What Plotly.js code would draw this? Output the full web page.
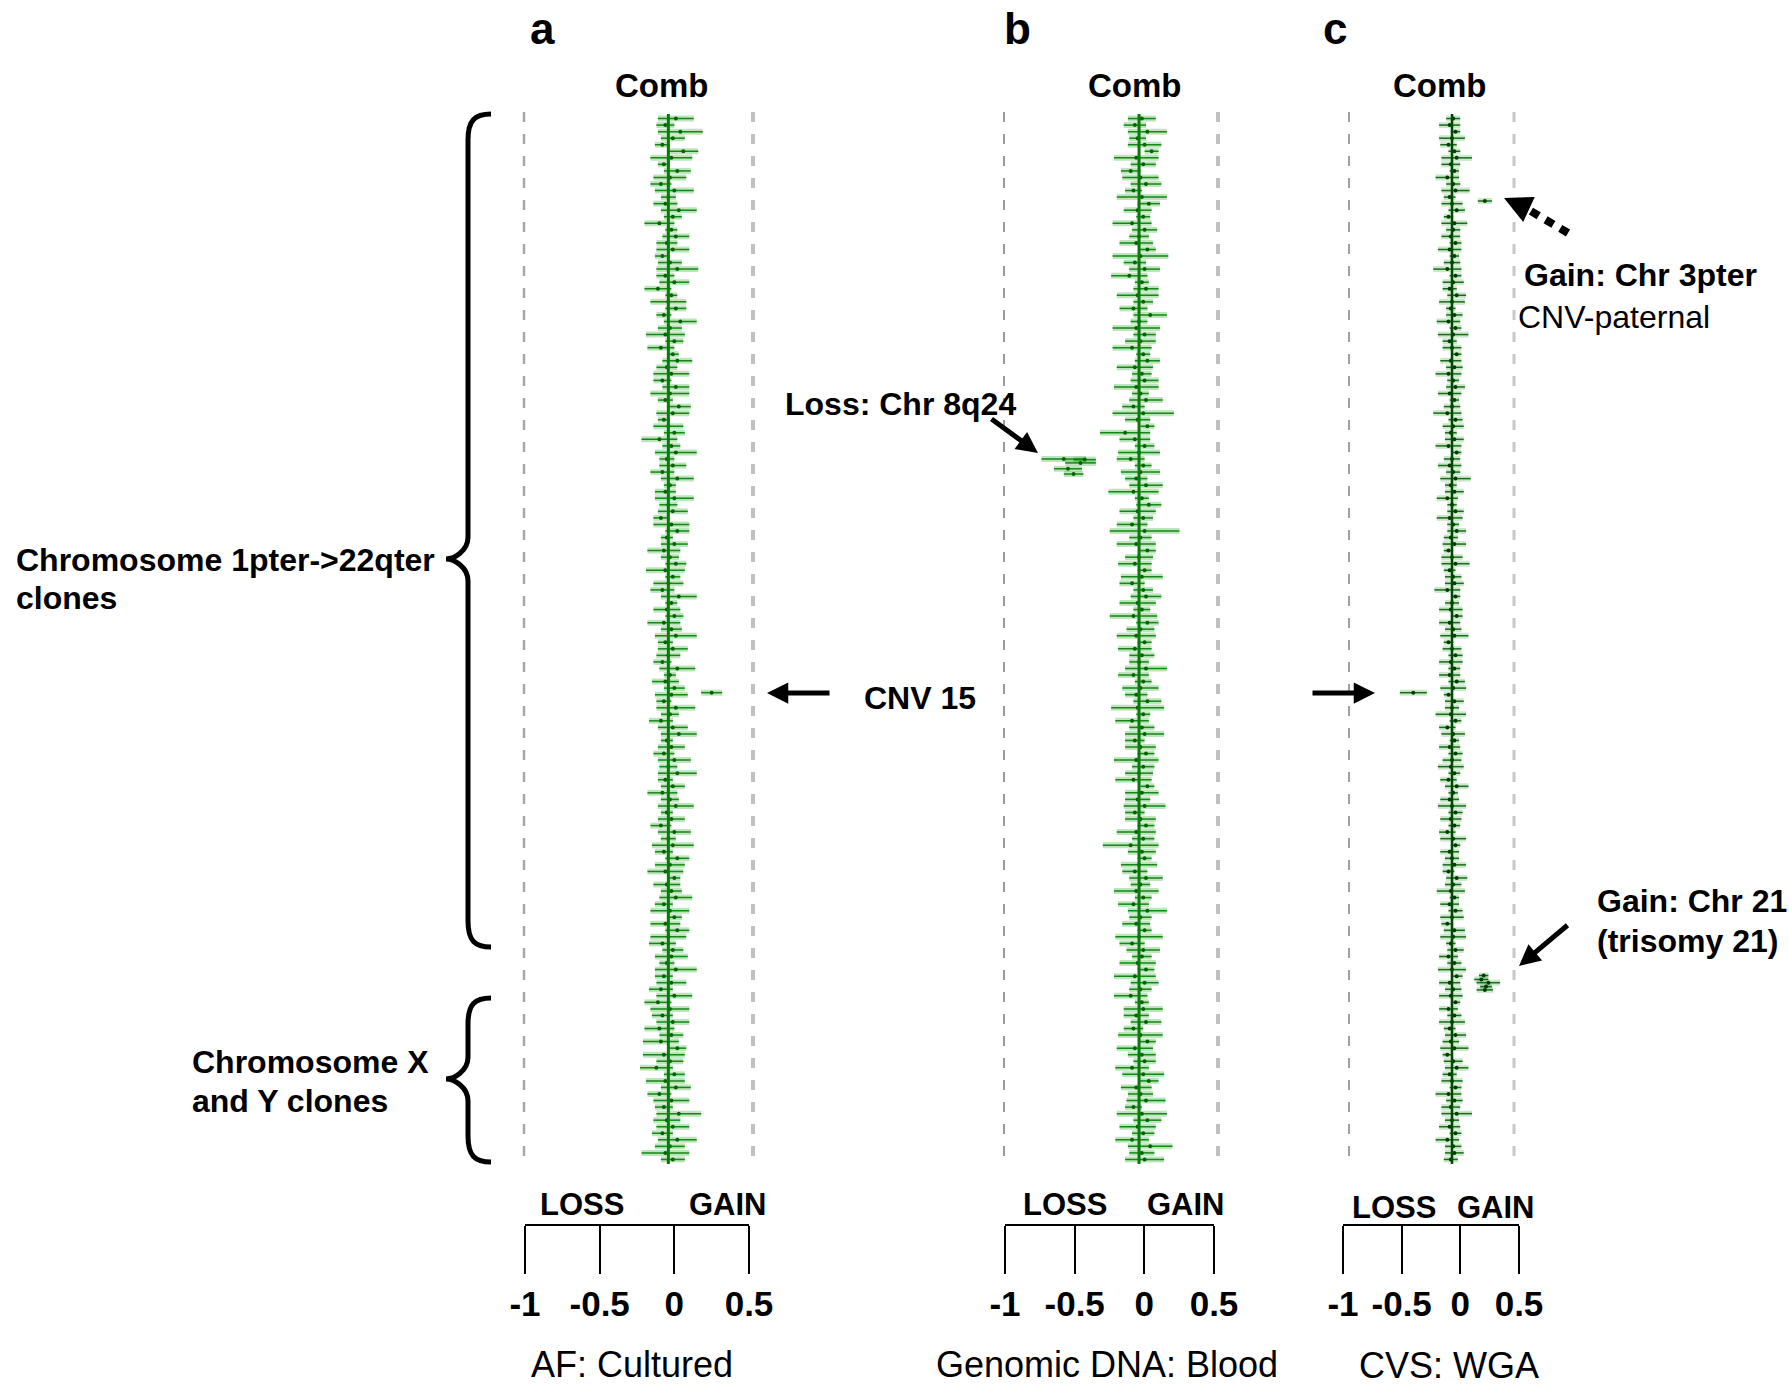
<!DOCTYPE html>
<html><head><meta charset="utf-8">
<script src="https://cdn.plot.ly/plotly-3.0.1.min.js"></script>
<style>html,body{margin:0;padding:0;background:#fff}</style>
</head><body><div id="chart" style="width:1789px;height:1386px"></div>
<script>
// ---- Panel a: AF cultured (Comb log2 ratio per clone, chr1pter -> Y) ----
const aVals = [
 0.05,-0.02,0.08,0.03,-0.04,0.10,0.02,-0.03,0.06,0.01,-0.05,0.04,0.00,-0.02,0.07,0.03,-0.06,0.02,0.05,-0.01,
 0.03,-0.04,0.01,0.06,-0.02,0.04,-0.07,0.02,0.00,0.05,-0.03,0.08,0.01,-0.02,0.04,-0.05,0.03,0.06,-0.01,0.02,
 -0.04,0.05,0.01,-0.02,0.07,0.03,-0.03,0.00,0.04,-0.06,0.02,0.05,-0.01,0.03,-0.04,0.06,0.01,-0.02,0.04,0.00,
 0.03,-0.05,0.02,0.06,-0.01,0.04,-0.03,0.01,0.05,-0.02,0.03,0.00,-0.04,0.07,0.02,-0.01,0.04,-0.03,0.02,0.05,
 -0.02,0.03,0.00,-0.04,0.06,0.01,-0.02,0.04,0.02,-0.03,0.05,0.01,-0.05,0.03,0.07,-0.01,0.02,-0.03,0.04,0.00,
 0.06,-0.02,0.03,-0.04,0.01,0.05,-0.01,0.02,-0.05,0.04,0.00,0.03,-0.03,0.06,0.01,-0.02,0.04,-0.01,0.02,0.05,
 -0.03,0.01,0.04,-0.02,0.06,0.00,-0.04,0.03,0.02,-0.01,0.05,-0.03,0.02,-0.05,0.04,-0.07,0.01,-0.04,0.03,-0.06,
 0.02,-0.05,0.06,-0.03,0.01,-0.08,0.04,-0.02,0.05,-0.06,0.02,-0.03,0.07,-0.01,0.03,-0.04,0.06,0.01,-0.02,0.03];
const aErr = [
 0.12,0.06,0.15,0.08,0.05,0.10,0.14,0.04,0.09,0.11,0.07,0.13,0.05,0.08,0.12,0.06,0.10,0.04,0.09,0.07,
 0.11,0.05,0.08,0.14,0.06,0.10,0.09,0.04,0.12,0.07,0.05,0.11,0.08,0.13,0.06,0.09,0.04,0.10,0.07,0.12,
 0.06,0.09,0.13,0.05,0.08,0.11,0.04,0.10,0.07,0.12,0.06,0.14,0.05,0.09,0.08,0.11,0.04,0.07,0.13,0.06,
 0.10,0.05,0.12,0.08,0.04,0.09,0.11,0.06,0.07,0.13,0.05,0.10,0.08,0.12,0.04,0.09,0.06,0.11,0.07,0.14,
 0.05,0.10,0.08,0.06,0.12,0.04,0.09,0.07,0.11,0.05,0.13,0.06,0.08,0.10,0.12,0.04,0.09,0.07,0.11,0.06,
 0.13,0.05,0.08,0.10,0.06,0.12,0.04,0.09,0.07,0.11,0.05,0.14,0.06,0.08,0.10,0.12,0.04,0.09,0.07,0.11,
 0.06,0.13,0.05,0.10,0.08,0.12,0.09,0.07,0.11,0.05,0.14,0.06,0.10,0.08,0.12,0.09,0.13,0.07,0.11,0.10,
 0.08,0.12,0.06,0.14,0.09,0.11,0.07,0.13,0.10,0.08,0.12,0.06,0.15,0.09,0.11,0.07,0.13,0.10,0.16,0.08];
const aCnvY = [88.7];
const aCnvX = [0.29];
const aCnvErr = [0.07];

// ---- Panel b: Genomic DNA blood ----
const bVals = [
 0.02,-0.03,0.06,-0.01,0.04,0.09,-0.02,0.03,-0.06,0.01,0.05,-0.04,0.02,0.07,-0.01,0.03,-0.05,0.04,0.00,-0.02,
 0.06,0.01,-0.03,0.04,-0.07,0.02,0.05,-0.01,0.03,-0.04,0.08,0.00,-0.02,0.04,0.01,-0.05,0.03,0.06,-0.03,0.02,
 0.04,-0.02,0.01,0.05,-0.04,0.03,-0.01,0.06,-0.10,-0.03,0.04,0.00,-0.06,0.03,0.01,-0.02,0.05,-0.04,0.02,0.07,
 -0.01,0.03,-0.05,0.04,0.01,-0.02,0.06,0.00,-0.03,0.04,0.02,-0.05,0.03,0.05,-0.01,0.02,-0.04,0.06,0.01,-0.02,
 0.04,-0.03,0.02,0.00,0.05,-0.04,0.03,0.01,-0.02,0.06,-0.01,0.03,-0.05,0.02,0.04,-0.03,0.01,0.05,-0.02,0.03,
 0.00,-0.04,0.06,0.02,-0.01,0.04,-0.03,0.01,0.05,-0.02,0.03,-0.06,0.02,0.04,0.00,-0.03,0.05,0.01,-0.02,0.03,
 -0.04,0.06,0.01,-0.02,0.04,0.00,-0.05,0.03,0.02,-0.01,0.05,-0.03,0.04,0.01,-0.06,0.02,0.03,-0.02,0.05,-0.04,
 0.01,0.06,-0.03,0.02,0.04,-0.05,0.03,0.07,-0.02,0.01,0.05,-0.04,0.02,0.06,-0.01,0.03,-0.05,0.08,0.02,0.04];
const bErr = [
 0.10,0.08,0.14,0.06,0.12,0.05,0.16,0.09,0.07,0.13,0.11,0.06,0.18,0.08,0.10,0.05,0.14,0.09,0.07,0.12,
 0.06,0.20,0.08,0.11,0.13,0.05,0.09,0.15,0.07,0.10,0.12,0.06,0.17,0.08,0.11,0.14,0.05,0.09,0.13,0.07,
 0.10,0.16,0.06,0.12,0.08,0.22,0.09,0.05,0.18,0.11,0.07,0.15,0.10,0.06,0.14,0.08,0.12,0.18,0.05,0.09,
 0.13,0.07,0.11,0.25,0.08,0.14,0.06,0.10,0.12,0.05,0.15,0.09,0.07,0.11,0.13,0.06,0.17,0.08,0.10,0.14,
 0.05,0.12,0.09,0.07,0.15,0.11,0.06,0.13,0.08,0.10,0.19,0.05,0.12,0.09,0.14,0.07,0.11,0.06,0.16,0.08,
 0.10,0.13,0.05,0.12,0.09,0.15,0.07,0.11,0.06,0.14,0.08,0.20,0.10,0.05,0.13,0.09,0.12,0.07,0.16,0.06,
 0.11,0.14,0.08,0.10,0.05,0.17,0.09,0.12,0.07,0.13,0.06,0.15,0.10,0.08,0.12,0.05,0.14,0.09,0.11,0.07,
 0.16,0.06,0.13,0.10,0.08,0.12,0.15,0.07,0.11,0.09,0.14,0.06,0.18,0.10,0.13,0.08,0.12,0.16,0.09,0.14];
const bLossY = [53.0, 53.1, 53.6, 54.5, 55.3];
const bLossX = [-0.54, -0.39, -0.42, -0.51, -0.47];
const bLossErr = [0.16, 0.08, 0.11, 0.10, 0.07];

// ---- Panel c: CVS WGA ----
const cVals = [
 0.01,-0.02,0.03,0.00,-0.03,0.02,0.04,-0.01,0.02,-0.04,0.01,0.03,-0.02,0.00,0.04,-0.03,0.02,0.01,-0.01,0.03,
 -0.02,0.02,0.00,-0.04,0.03,0.01,-0.02,0.04,0.00,-0.01,0.02,-0.03,0.03,0.01,-0.02,0.00,0.04,-0.01,0.02,-0.03,
 0.01,0.03,-0.02,0.02,0.00,-0.04,0.03,0.01,-0.01,0.02,-0.03,0.04,0.00,-0.02,0.01,0.03,-0.01,0.02,-0.04,0.00,
 0.03,-0.02,0.01,0.04,-0.01,0.02,-0.03,0.00,0.03,-0.02,0.01,0.02,-0.04,0.03,0.00,-0.01,0.04,-0.02,0.01,0.02,
 -0.03,0.00,0.03,-0.01,0.02,-0.02,0.04,0.01,-0.03,0.02,0.00,-0.01,0.03,-0.04,0.01,0.02,-0.02,0.03,0.00,-0.01,
 0.02,-0.03,0.04,0.01,-0.02,0.00,0.03,-0.01,0.02,-0.04,0.01,0.03,-0.02,0.00,0.02,-0.03,0.04,0.01,-0.01,0.02,
 -0.02,0.03,0.00,-0.04,0.02,0.01,-0.01,0.03,-0.03,0.02,0.00,0.04,-0.02,0.01,-0.01,0.03,-0.03,0.02,0.00,-0.02,
 0.03,-0.01,0.02,-0.04,0.01,0.04,-0.02,0.00,0.03,-0.03,0.02,-0.01,0.04,0.00,-0.02,0.03,-0.04,0.01,0.02,-0.01];
const cErr = [
 0.06,0.09,0.04,0.11,0.07,0.05,0.13,0.08,0.04,0.10,0.06,0.12,0.05,0.09,0.07,0.04,0.11,0.06,0.08,0.05,
 0.10,0.04,0.07,0.12,0.05,0.09,0.06,0.08,0.11,0.04,0.07,0.10,0.05,0.13,0.06,0.08,0.04,0.09,0.07,0.11,
 0.05,0.08,0.10,0.04,0.07,0.12,0.06,0.09,0.05,0.08,0.11,0.04,0.07,0.10,0.06,0.13,0.05,0.08,0.09,0.04,
 0.07,0.11,0.05,0.08,0.06,0.10,0.04,0.09,0.12,0.05,0.07,0.08,0.11,0.04,0.06,0.10,0.05,0.09,0.07,0.12,
 0.04,0.08,0.06,0.10,0.05,0.09,0.07,0.11,0.04,0.08,0.06,0.13,0.05,0.07,0.10,0.04,0.09,0.06,0.08,0.11,
 0.05,0.07,0.10,0.04,0.08,0.12,0.06,0.09,0.05,0.07,0.11,0.04,0.08,0.06,0.10,0.05,0.09,0.07,0.12,0.04,
 0.08,0.06,0.10,0.05,0.09,0.11,0.04,0.07,0.08,0.06,0.12,0.05,0.09,0.07,0.10,0.04,0.08,0.06,0.11,0.05,
 0.09,0.07,0.12,0.04,0.08,0.10,0.06,0.09,0.05,0.11,0.07,0.08,0.13,0.06,0.09,0.05,0.10,0.07,0.08,0.06];
const cGainY = [13.6, 131.9, 132.5, 133.0, 133.6, 134.1];
const cGainX = [0.28, 0.27, 0.25, 0.31, 0.29, 0.28];
const cGainErr = [0.06, 0.04, 0.06, 0.10, 0.05, 0.07];
const cLossY = [88.7];
const cLossX = [-0.33];
const cLossErr = [0.115];

// axis key
const keyTickVals = [-1, -0.5, 0, 0.5];
const keyTickText = ['-1', '-0.5', '0', '0.5'];
const subtitles = ['AF: Cultured', 'Genomic DNA: Blood', 'CVS: WGA'];
const panelLetters = ['a', 'b', 'c'];

// ---------------------------------------------------------------
const W = 1789, H = 1386;
const FONT = '"Liberation Sans", Arial, Helvetica, sans-serif';
const PX = p => p / W, PY = p => 1 - p / H;
const cloneIdx = Array.from({length: aVals.length}, (_, i) => i + 1);

const panels = [
  {xa:'x', ya:'y', dom:[525,749], range:[-0.96,0.54], halo:'rgba(40,165,40,0.30)', core:'rgba(0,125,0,0.9)', mk:'#006400', lineC:'#0b780b', lineW:3},
  {xa:'x2', ya:'y2', dom:[1005,1214], range:[-0.962,0.538], halo:'rgba(40,165,40,0.30)', core:'rgba(0,125,0,0.9)', mk:'#006400', lineC:'#0b780b', lineW:3},
  {xa:'x3', ya:'y3', dom:[1343,1519], range:[-0.929,0.571], halo:'rgba(40,150,40,0.24)', core:'rgba(0,95,0,0.9)', mk:'#003c00', lineC:'#004a00', lineW:2.5}
];
const series = [
  [[aVals, cloneIdx, aErr], [aCnvX, aCnvY, aCnvErr]],
  [[bVals, cloneIdx, bErr], [bLossX, bLossY, bLossErr]],
  [[cVals, cloneIdx, cErr], [cGainX, cGainY, cGainErr], [cLossX, cLossY, cLossErr]]
];

const traces = [];
panels.forEach((p, k) => {
  series[k].forEach(([xs, ys, es]) => {
    traces.push({x: xs, y: ys, xaxis: p.xa, yaxis: p.ya, mode: 'markers', hoverinfo: 'skip', showlegend: false,
      marker: {size: 2, color: 'rgba(0,0,0,0)'},
      error_x: {type: 'data', array: es, color: p.halo, thickness: 6, width: 0}});
    traces.push({x: xs, y: ys, xaxis: p.xa, yaxis: p.ya, mode: 'markers', hoverinfo: 'skip', showlegend: false,
      marker: {size: 4, color: p.mk},
      error_x: {type: 'data', array: es, color: p.core, thickness: 1.5, width: 0}});
  });
});
// key axes (empty traces so the subplots exist)
['4','5','6'].forEach(n => traces.push({x: [], y: [], xaxis: 'x' + n, yaxis: 'y' + n, showlegend: false, hoverinfo: 'skip'}));

const layout = {
  width: W, height: H, margin: {l: 0, r: 0, t: 0, b: 0},
  paper_bgcolor: '#fff', plot_bgcolor: 'rgba(0,0,0,0)', showlegend: false,
  font: {family: FONT, color: '#000'},
  shapes: [], annotations: []
};
const yDom = [PY(1166), PY(112)];
panels.forEach((p, k) => {
  const sfx = k === 0 ? '' : String(k + 1);
  layout['xaxis' + sfx] = {domain: [PX(p.dom[0]), PX(p.dom[1])], range: p.range, anchor: 'y' + sfx, visible: false, fixedrange: true};
  layout['yaxis' + sfx] = {domain: yDom, range: [161, 0], anchor: 'x' + sfx, visible: false, fixedrange: true};
  const n = String(k + 4);
  layout['xaxis' + n] = {domain: [PX(p.dom[0]), PX(p.dom[1])], range: [-1, 0.5], anchor: 'y' + n,
    tickvals: keyTickVals, ticktext: keyTickText, ticks: 'outside', ticklen: 48, tickwidth: 2, tickcolor: '#000',
    showline: true, linewidth: 2, linecolor: '#000', showgrid: false, zeroline: false, ticklabelstandoff: 0,
    tickfont: {family: FONT, size: 35, weight: 'bold', color: '#000'}, fixedrange: true};
  layout['yaxis' + n] = {domain: [PY(1224), PY(1220)], anchor: 'x' + n, visible: false, fixedrange: true};
  // comb baseline
  layout.shapes.push({type: 'line', xref: 'x' + (sfx), yref: 'y' + sfx + ' domain', x0: 0, x1: 0, y0: 0.002, y1: 0.998,
    line: {color: p.lineC, width: p.lineW}, layer: 'above'});
});

// dashed guides (pixel positions)
const dashGuides = [[524,'#a8a8a8',2.5],[753,'#c0c0c0',4],[1004,'#9a9a9a',2],[1218,'#c0c0c0',4],[1349,'#a0a0a0',2],[1514,'#c8c8c8',3]];
dashGuides.forEach(([x, c, w]) => layout.shapes.push({type: 'line', xref: 'paper', yref: 'paper', x0: PX(x), x1: PX(x), y0: PY(112), y1: PY(1165),
  line: {color: c, width: w, dash: '10px,12px'}, layer: 'below'}));

// braces
function brace(xe, xs, xt, y0, ym, y1) {
  const P = (x, y) => PX(x).toFixed(5) + ',' + PY(y).toFixed(5);
  return 'M' + P(xe, y0) + ' C' + P(xe - 16, y0) + ' ' + P(xs, y0 + 6) + ' ' + P(xs, y0 + 26) +
    ' L' + P(xs, ym - 22) + ' C' + P(xs, ym - 8) + ' ' + P(xt + 8, ym) + ' ' + P(xt, ym) +
    ' C' + P(xt + 8, ym) + ' ' + P(xs, ym + 8) + ' ' + P(xs, ym + 22) +
    ' L' + P(xs, y1 - 26) + ' C' + P(xs, y1 - 6) + ' ' + P(xe - 16, y1) + ' ' + P(xe, y1);
}
layout.shapes.push({type: 'path', xref: 'paper', yref: 'paper', path: brace(491, 468, 446, 114, 559, 947), line: {color: '#000', width: 5}});
layout.shapes.push({type: 'path', xref: 'paper', yref: 'paper', path: brace(491, 468, 446, 998, 1079, 1162), line: {color: '#000', width: 5}});
// dotted arrow shaft
layout.shapes.push({type: 'line', xref: 'paper', yref: 'paper', x0: PX(1568), y0: PY(233), x1: PX(1529), y1: PY(210),
  line: {color: '#000', width: 8, dash: '9px,8px'}});

// text
function T(text, x, y, size, bold, xanchor) {
  return {text: bold ? '<b>' + text + '</b>' : text, x: PX(x), y: PY(y), xref: 'paper', yref: 'paper',
    xanchor: xanchor || 'center', yanchor: 'middle', showarrow: false, font: {family: FONT, size: size, color: '#000'}};
}
function ARROW(tx, ty, hx, hy, w, s) {
  return {text: '', x: PX(hx), y: PY(hy), xref: 'paper', yref: 'paper', ax: tx - hx, ay: ty - hy,
    showarrow: true, arrowhead: 2, arrowwidth: w, arrowsize: s, arrowcolor: '#000'};
}
const A = layout.annotations;
[542, 1017, 1335].forEach((x, i) => A.push(T(panelLetters[i], x, 29, 44, true)));
[662, 1135, 1440].forEach(x => A.push(T('Comb', x, 85, 33, true)));
[[582, 728, 1204], [1065, 1186, 1204], [1394, 1496, 1207]].forEach(([l, g, y]) => {
  A.push(T('LOSS', l, y, 31, true)); A.push(T('GAIN', g, y, 31, true));
});
[[632, 1364], [1107, 1364], [1449, 1365]].forEach(([x, y], i) => A.push(T(subtitles[i], x, y, 36, false)));
A.push(T('Chromosome 1pter->22qter', 14, 560, 32, true, 'left'));
A.push(T('clones', 14, 598, 32, true, 'left'));
A.push(T('Chromosome X', 190, 1062, 32, true, 'left'));
A.push(T('and Y clones', 190, 1101, 32, true, 'left'));
A.push(T('CNV 15', 920, 698, 32, true));
A.push(T('Loss: Chr 8q24', 900, 404, 32, true));
A.push(T('Gain: Chr 3pter', 1522, 275, 32, true, 'left'));
A.push(T('CNV-paternal', 1516, 317, 32, false, 'left'));
A.push(T('Gain: Chr 21', 1595, 901, 32, true, 'left'));
A.push(T('(trisomy 21)', 1595, 941, 32, true, 'left'));
A.push(ARROW(831, 693, 767, 693, 5, 0.85));
A.push(ARROW(1311, 693, 1375, 693, 5, 0.85));
A.push(ARROW(990, 418, 1038, 453, 5, 0.85));
A.push(ARROW(1569, 924, 1519, 966, 5, 0.85));
A.push(ARROW(1530, 210, 1504, 198, 5, 1.1));

Plotly.newPlot('chart', traces, layout, {staticPlot: true, displayModeBar: false});
</script></body></html>
